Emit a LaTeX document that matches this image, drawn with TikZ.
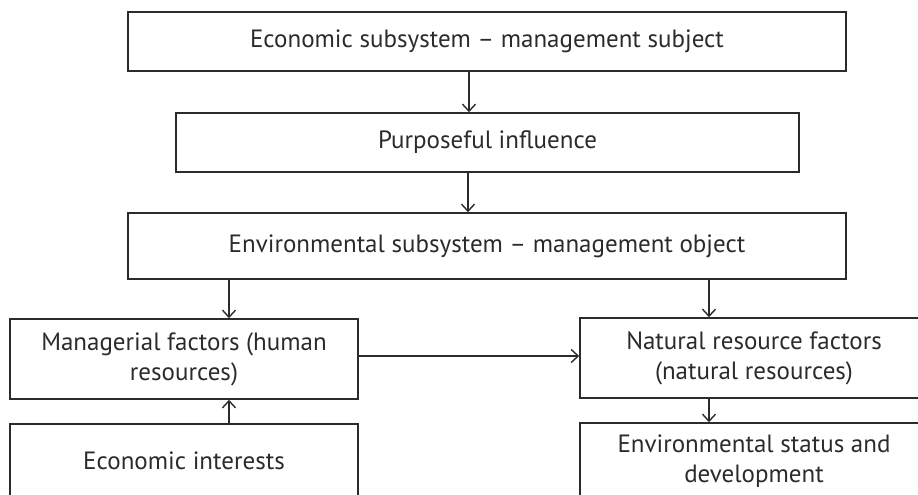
\documentclass[tikz,border=0pt]{standalone}
\usepackage{fontspec}
\setmainfont{PT Sans}
\usetikzlibrary{arrows.meta}
\definecolor{ink}{HTML}{2B2B2B}
\begin{document}
\begin{tikzpicture}[x=1pt,y=-1pt,
  box/.style={draw=ink, line width=1.6pt, rectangle, inner sep=0pt,
    text=ink, align=center, font=\fontsize{25}{30}\selectfont},
  arr/.style={draw=ink, line width=1.4pt,
    -{Straight Barb[length=7pt,width=13pt,line width=1.4pt]}}]
\useasboundingbox (0,0) rectangle (918,495);
\clip (0,0) rectangle (918,495);

% boxes
\node[box, minimum width=718pt, minimum height=59pt] (b1) at (487,41.5)
  {Economic subsystem – management subject};
\node[box, minimum width=623pt, minimum height=59pt] (b2) at (487.5,142.5)
  {Purposeful influence};
\node[box, minimum width=718pt, minimum height=66pt] (b3) at (487,246)
  {Environmental subsystem – management object};
\node[box, minimum width=348pt, minimum height=80pt] (b4) at (184,359)
  {Managerial factors (human\\resources)};
\node[box, minimum width=348pt, minimum height=74pt] (b5) at (184,461)
  {Economic interests};
\node[box, minimum width=348pt, minimum height=80pt] (b6) at (754,358)
  {Natural resource factors\\(natural resources)};
\node[box, minimum width=348pt, minimum height=76pt] (b7) at (754,461)
  {Environmental status and\\development};

% connector positions
\coordinate (x1) at (469,0);
\coordinate (x2) at (468,0);
\coordinate (xl) at (229,0);
\coordinate (xr) at (709,0);
\coordinate (yh) at (0,356);

% connectors
\draw[arr] (b1.south -| x1) -- (b2.north -| x1);
\draw[arr] (b2.south -| x2) -- (b3.north -| x2);
\draw[arr] (b3.south -| xl) -- (b4.north -| xl);
\draw[arr] (b3.south -| xr) -- (b6.north -| xr);
\draw[arr] (b5.north -| xl) -- (b4.south -| xl);
\draw[arr] (b6.south -| xr) -- (b7.north -| xr);
\draw[arr] (b4.east |- yh) -- (b6.west |- yh);
\end{tikzpicture}
\end{document}
